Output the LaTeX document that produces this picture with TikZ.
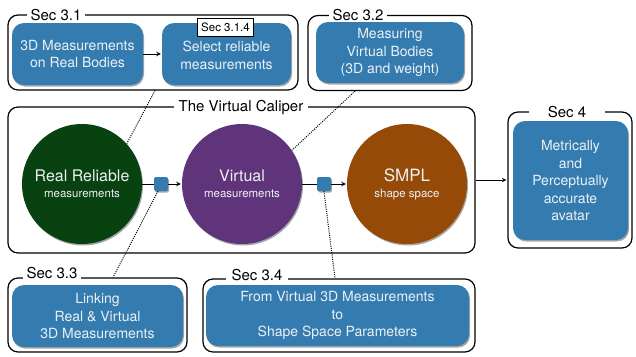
\documentclass[tikz,border=0pt]{standalone}
\usepackage{fontspec}
\setmainfont{TeX Gyre Heros}
\usetikzlibrary{shadows}
\definecolor{boxblue}{RGB}{52,124,176}
\definecolor{realgreen}{RGB}{8,66,16}
\definecolor{virtpurple}{RGB}{96,52,122}
\definecolor{smplorange}{RGB}{150,74,8}
\definecolor{paletext}{RGB}{236,240,244}
\tikzset{
  softshadow/.style={drop shadow={shadow xshift=1pt,shadow yshift=-1.5pt,opacity=0.35,fill=black}},
  bluebox/.style={rectangle,rounded corners=12pt,fill=boxblue,text=paletext,align=center,
    inner sep=0pt,font=\fontsize{14}{17.5}\selectfont,softshadow},
  frame/.style={rectangle,rounded corners=10pt,draw,line width=1.2pt,inner sep=0pt},
  seclabel/.style={fill=white,inner xsep=4pt,inner ysep=1pt,font=\fontsize{15}{15}\selectfont},
  bigcircle/.style={circle,minimum size=120pt,inner sep=0pt,text=paletext,align=center,
    font=\fontsize{16}{16}\selectfont,softshadow},
  joint/.style={rectangle,rounded corners=2pt,fill=boxblue,minimum size=14pt,inner sep=0pt,softshadow},
  dotline/.style={line width=1pt,dash pattern=on 1pt off 1.2pt},
}
\newcommand{\smalltext}[1]{{\fontsize{11.5}{14}\selectfont #1}}
\begin{document}
\begin{tikzpicture}[x=1pt,y=-1pt]
    \useasboundingbox (0,0) rectangle (636,356);
    % frames
    \node [frame,minimum width=290pt,minimum height=75pt] (sec31) at (153,52.5) {};
    \node [frame,minimum width=164pt,minimum height=75pt] (sec32) at (390,53) {};
    \node [frame,minimum width=467pt,minimum height=146pt] (caliper) at (241.5,180) {};
    \node [frame,minimum width=124pt,minimum height=136pt] (sec4) at (570,180) {};
    \node [frame,minimum width=179pt,minimum height=74pt] (sec33) at (97.5,315) {};
    \node [frame,minimum width=272pt,minimum height=73pt] (sec34) at (339,315.5) {};
    \node [seclabel] (lab31) at (56,15) {Sec 3.1};
    \node [seclabel] (lab32) at (358,15) {Sec 3.2};
    \node [seclabel,inner xsep=5pt] (labcal) at (241,108) {The Virtual Caliper};
    \node [seclabel,inner xsep=19pt] (lab4) at (567,112) {Sec 4};
    \node [seclabel] (lab33) at (52,273) {Sec 3.3};
    \node [seclabel,inner xsep=6pt,xshift=6pt] (lab34) at (251,275) {Sec 3.4\hspace{6pt}};
    % blue boxes
    \node [bluebox,minimum width=131pt,minimum height=62pt] (realmeas) at (77.5,54) {3D Measurements\\on Real Bodies};
    \node [bluebox,minimum width=129pt,minimum height=62pt] (select) at (226.5,54) {\\[-4pt]Select reliable\\measurements};
    \node [draw,fill=white,line width=0.8pt,inner xsep=3.5pt,inner ysep=4.5pt,
           font=\fontsize{11.5}{11.5}\selectfont] (lab314) at (225.5,27.5) {Sec 3.1.4};
    \node [bluebox,minimum width=148pt,minimum height=61pt] (virtmeas) at (390,52.5) {Measuring\\Virtual Bodies\\(3D and weight)};
    \node [bluebox,minimum width=115pt,minimum height=119pt] (avatar) at (570.5,180.5) {Metrically\\and\\Perceptually\\accurate\\avatar};
    \node [bluebox,minimum width=171pt,minimum height=62pt] (linking) at (97.5,316) {Linking\\Real \& Virtual\\3D Measurements};
    \node [bluebox,minimum width=263pt,minimum height=61pt] (mapping) at (337.5,315.5) {From Virtual 3D Measurements\\to\\Shape Space Parameters};
    % circles
    \node [bigcircle,fill=realgreen] (real) at (82,184) {Real Reliable\\\smalltext{measurements}};
    \node [bigcircle,fill=virtpurple] (virtual) at (242,184) {Virtual\\\smalltext{measurements}};
    \node [bigcircle,fill=smplorange,font=\fontsize{17}{16}\selectfont] (smpl) at (407,184) {SMPL\\\smalltext{shape space}};
    \node [joint] (link1) at (161,184) {};
    \node [joint] (link2) at (324,184) {};
    % connectors
    \draw [->,>=stealth,line width=1pt,shorten >=1pt] (realmeas.east) -- (select.west);
    \draw [line width=1pt] (real.east) -- (link1.west);
    \draw [->,>=stealth,line width=1pt,shorten >=1pt] (link1.east) -- (virtual.west);
    \draw [line width=1pt] (virtual.east) -- (link2.west);
    \draw [->,>=stealth,line width=1pt,shorten >=1pt] (link2.east) -- (smpl.west);
    \draw [->,>=stealth,line width=1pt,shorten >=1pt] (caliper.east) -- (sec4.west);
    \draw [dotline] ([xshift=2pt]sec31.south) -- (real.42);
    \draw [dotline] ([xshift=-35pt]sec32.south) -- (virtual.34);
    \draw [dotline] ([xshift=-3pt]link1.south) -- ([xshift=15.5pt]sec33.north);
    \draw [dotline] (link2.south) -- ([xshift=-4pt]sec34.north);
  \end{tikzpicture}
\end{document}
